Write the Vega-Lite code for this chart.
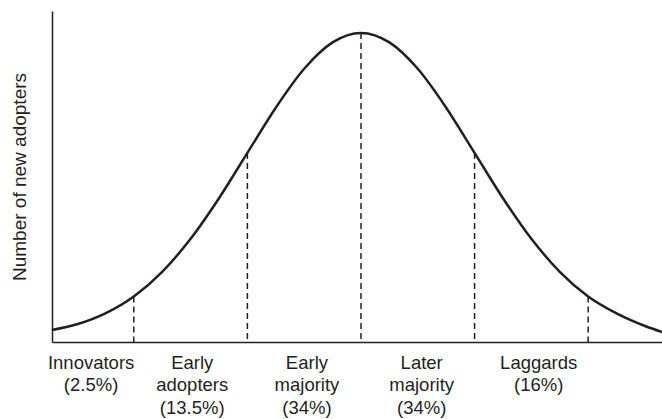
{
  "$schema": "https://vega.github.io/schema/vega-lite/v6.json",
  "width": 610,
  "height": 331,
  "autosize": {"type": "none"},
  "padding": {"left": 52, "top": 11, "right": 0, "bottom": 77},
  "background": "white",
  "config": {"view": {"stroke": null}, "font": "Liberation Sans"},
  "datasets": {
    "curve": [
      {"x": -2.72, "adopters": 12},
      {"x": -2.5, "adopters": 17.7},
      {"x": -2.25, "adopters": 28.6},
      {"x": -2.0, "adopters": 45.5},
      {"x": -1.75, "adopters": 70.2},
      {"x": -1.5, "adopters": 103.2},
      {"x": -1.25, "adopters": 143.8},
      {"x": -1.0, "adopters": 189.1},
      {"x": -0.75, "adopters": 234.3},
      {"x": -0.5, "adopters": 273.2},
      {"x": -0.25, "adopters": 299.6},
      {"x": 0.0, "adopters": 309},
      {"x": 0.25, "adopters": 299.6},
      {"x": 0.5, "adopters": 273.2},
      {"x": 0.75, "adopters": 234.3},
      {"x": 1.0, "adopters": 189.1},
      {"x": 1.25, "adopters": 143.8},
      {"x": 1.5, "adopters": 103.2},
      {"x": 1.75, "adopters": 70.2},
      {"x": 2.0, "adopters": 45.5},
      {"x": 2.25, "adopters": 28.6},
      {"x": 2.5, "adopters": 16},
      {"x": 2.65, "adopters": 10}
    ],
    "cuts": [
      {"x": -2, "adopters": 45.5},
      {"x": -1, "adopters": 189.1},
      {"x": 0, "adopters": 309},
      {"x": 1, "adopters": 189.1},
      {"x": 2, "adopters": 45.5}
    ]
  },
  "layer": [
    {
      "data": {"name": "curve"},
      "mark": {"type": "line", "interpolate": "monotone", "color": "#231f20", "strokeWidth": 2.5},
      "encoding": {
        "x": {
          "field": "x", "type": "quantitative",
          "scale": {"domain": [-2.72, 2.65], "nice": false, "zero": false},
          "axis": {
            "title": null,
            "values": [-2.38, -1.49, -0.48, 0.53, 1.56],
            "labelExpr": "datum.value < -2 ? ['Innovators','(2.5%)'] : datum.value < -1 ? ['Early','adopters','(13.5%)'] : datum.value < 0 ? ['Early','majority','(34%)'] : datum.value < 1 ? ['Later','majority','(34%)'] : ['Laggards','(16%)']",
            "ticks": false, "grid": false,
            "domainColor": "#231f20", "domainWidth": 1.5,
            "labelFontSize": 18.5, "labelColor": "#231f20", "labelLineHeight": 22.5,
            "labelPadding": 11, "labelOverlap": false, "labelFlush": false, "labelBound": false
          }
        },
        "y": {
          "field": "adopters", "type": "quantitative",
          "scale": {"domain": [0, 331], "nice": false},
          "axis": {
            "title": "Number of new adopters",
            "labels": false, "ticks": false, "grid": false,
            "domainColor": "#231f20", "domainWidth": 1.5,
            "titleFontSize": 19, "titleFontWeight": "normal", "titleColor": "#231f20",
            "titlePadding": 23
          }
        }
      }
    },
    {
      "data": {"name": "cuts"},
      "mark": {"type": "rule", "strokeDash": [6, 4], "strokeWidth": 1.5, "color": "#231f20"},
      "encoding": {
        "x": {"field": "x", "type": "quantitative"},
        "y": {"field": "adopters", "type": "quantitative"},
        "y2": {"datum": 0}
      }
    }
  ]
}
